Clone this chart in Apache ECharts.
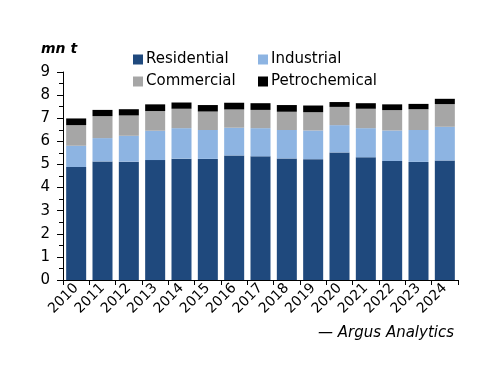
<!DOCTYPE html>
<html><head><meta charset="utf-8">
<script src="https://cdn.jsdelivr.net/npm/echarts@6/dist/echarts.min.js"></script>
<style>html,body{margin:0;padding:0;background:#fff}#c{width:500px;height:386px}</style>
</head><body><div id="c"></div>
<script>
const years = ['2010','2011','2012','2013','2014','2015','2016','2017','2018','2019','2020','2021','2022','2023','2024'];
const residential = [4.89,5.13,5.12,5.19,5.25,5.24,5.39,5.35,5.26,5.23,5.52,5.31,5.15,5.11,5.17];
const industrial  = [0.92,1.01,1.12,1.27,1.32,1.25,1.20,1.22,1.23,1.24,1.18,1.26,1.32,1.38,1.46];
const commercial  = [0.89,0.95,0.88,0.85,0.84,0.80,0.79,0.79,0.79,0.79,0.79,0.84,0.88,0.90,0.98];
const petrochemical = [0.29,0.27,0.27,0.29,0.27,0.28,0.29,0.29,0.29,0.29,0.21,0.24,0.25,0.23,0.23];
const yTicks = [0,1,2,3,4,5,6,7,8,9];

const FONT = 'DejaVu Sans';
const chart = echarts.init(document.getElementById('c'), null, {renderer:'canvas'});
const legendBase = (name, left, top) => ({
  data:[name], left:left, top:top, itemWidth:10, itemHeight:10, itemGap:0, padding:0,
  icon:'rect', selectedMode:false,
  textStyle:{fontFamily:FONT, fontSize:15, color:'#000', padding:[0,0,0,-2]}
});
function mk(name, data, color){
  return {name, type:'bar', stack:'t', data, barCategoryGap:'24%',
    itemStyle:{color}, emphasis:{disabled:true}, animation:false};
}
chart.setOption({
  animation:false,
  grid:{left:63, right:42, top:72, bottom:106},
  legend:[
    legendBase('Residential',133,52),
    legendBase('Industrial',258,52),
    legendBase('Commercial',133,74),
    legendBase('Petrochemical',258,74)
  ],
  graphic:[
    {type:'text', left:41, top:42, style:{text:'mn t', font:'italic bold 14px "DejaVu Sans"', fill:'#000'}},
    {type:'text', right:46, top:326, style:{text:'— Argus Analytics', font:'italic 15px "DejaVu Sans"', fill:'#000'}}
  ],
  xAxis:{type:'category', data:years,
    axisLine:{lineStyle:{color:'#000', width:1}},
    axisTick:{show:true, alignWithLabel:false, length:5, lineStyle:{color:'#000'}},
    axisLabel:{rotate:45, fontFamily:FONT, fontSize:14, color:'#000', margin:6, interval:0}
  },
  yAxis:{type:'value', min:0, max:9, interval:1,
    splitLine:{show:false},
    axisLine:{show:true, lineStyle:{color:'#000', width:1}},
    axisTick:{show:true, length:6, lineStyle:{color:'#000'}},
    minorTick:{show:true, splitNumber:2, length:4, lineStyle:{color:'#000'}},
    axisLabel:{fontFamily:FONT, fontSize:15, color:'#000', margin:13,
      formatter:v => yTicks.includes(v) ? String(v) : ''}
  },
  series:[
    mk('Residential', residential, '#1F497D'),
    mk('Industrial', industrial, '#8DB4E2'),
    mk('Commercial', commercial, '#A6A6A6'),
    mk('Petrochemical', petrochemical, '#000000')
  ]
});
</script></body></html>
